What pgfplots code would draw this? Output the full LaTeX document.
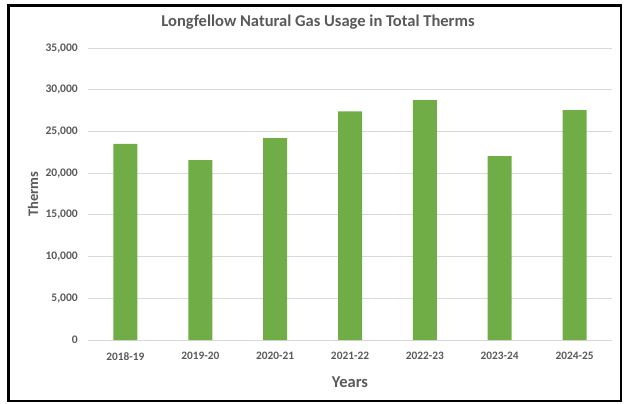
\documentclass[border=0pt]{standalone}
\usepackage{pgfplots}
\pgfplotsset{compat=1.18}
\usepackage{fontspec}
\setmainfont{Carlito}
\definecolor{bargreen}{HTML}{70AD47}
\definecolor{txtgray}{HTML}{595959}
\definecolor{gridgray}{HTML}{D9D9D9}

\begin{document}
\begin{tikzpicture}[x=1bp,y=1bp]
\path[use as bounding box] (0,0) rectangle (624,403);
\draw[line width=2.6bp, black] (8.5,2) rectangle (621,397.5);
\node[font=\bfseries\fontsize{16.6}{19}\selectfont, text=txtgray] at (318,381) {Longfellow Natural Gas Usage in Total Therms};
\begin{axis}[
  at={(88bp,63bp)}, anchor=south west,
  scale only axis, width=524bp, height=292bp,
  ymin=0, ymax=35000, ytick distance=5000,
  xmin=-0.5, xmax=6.5,
  xtick=data,
  xticklabels={2018-19,2019-20,2020-21,2021-22,2022-23,2023-24,2024-25},
  ybar, bar width=24bp,
  ymajorgrids, grid style={gridgray, line width=0.9bp},
  axis line style={draw=none},
  major tick length=0,
  /pgf/number format/assume math mode=true,
  /pgf/number format/1000 sep={,},
  scaled y ticks=false,
  yticklabel style={inner sep=0pt, xshift=-10bp, font=\bfseries\fontsize{11.6}{13}\selectfont, text=txtgray},
  xticklabel style={inner sep=0pt, yshift=-12bp, font=\bfseries\fontsize{11.4}{13}\selectfont, text=txtgray},
  xlabel={Years},
  xlabel style={at={(axis description cs:0.5,-0.144)}, anchor=center, font=\bfseries\fontsize{16.6}{19}\selectfont, text=txtgray},
  ylabel={Therms},
  ylabel style={at={(axis description cs:-0.105,0.5)}, anchor=center, font=\bfseries\fontsize{14.6}{17}\selectfont, text=txtgray},
]
\addplot[fill=bargreen, draw=none] coordinates {
  (0,23500) (1,21550) (2,24200) (3,27400) (4,28750) (5,22050) (6,27550)
};
\end{axis}
\end{tikzpicture}
\end{document}
